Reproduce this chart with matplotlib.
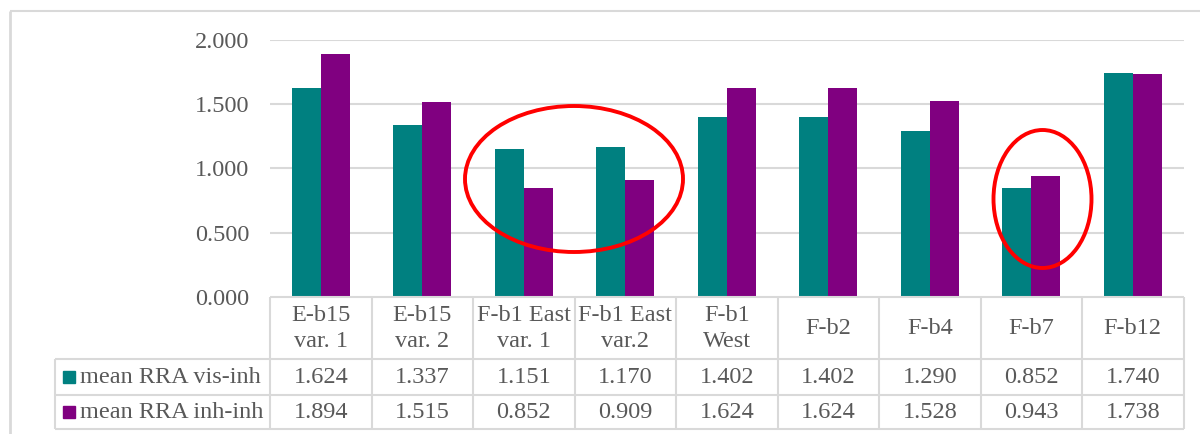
import matplotlib
matplotlib.use("Agg")
import matplotlib.pyplot as plt
from matplotlib.patches import Ellipse, Rectangle
from matplotlib.lines import Line2D

# Data
categories = ["E-b15\nvar. 1", "E-b15\nvar. 2", "F-b1 East\nvar. 1", "F-b1 East\nvar.2",
              "F-b1\nWest", "F-b2", "F-b4", "F-b7", "F-b12"]
series_names = ["mean RRA vis-inh", "mean RRA inh-inh"]
vis_inh = [1.624, 1.337, 1.151, 1.170, 1.402, 1.402, 1.290, 0.852, 1.740]
inh_inh = [1.894, 1.515, 0.852, 0.909, 1.624, 1.624, 1.528, 0.943, 1.738]
yticks = [0.0, 0.5, 1.0, 1.5, 2.0]

TEAL = "#008080"
PURPLE = "#800080"
TXT = "#595959"
GRID = "#d9d9d9"
FONT = "Liberation Serif"
FS = 17.5

W, H = 1200, 434
fig = plt.figure(figsize=(W / 100, H / 100), dpi=100)

# geometry in pixels
x0, x1 = 270, 1183.5
y_top, y_zero = 40, 297
ncat = len(categories)
colw = (x1 - x0) / ncat

ax = fig.add_axes([x0 / W, 1 - y_zero / H, (x1 - x0) / W, (y_zero - y_top) / H])
ax.set_xlim(-0.5, ncat - 0.5)
ax.set_ylim(0, 2.0)
bw = 0.285
xs = list(range(ncat))
ax.bar([x - bw / 2 for x in xs], vis_inh, width=bw, color=TEAL, zorder=3)
ax.bar([x + bw / 2 for x in xs], inh_inh, width=bw, color=PURPLE, zorder=3)
ax.set_yticks(yticks)
ax.set_yticklabels([f"{v:.3f}" for v in yticks], fontfamily=FONT, fontsize=FS, color=TXT)
ax.tick_params(axis="y", length=0, pad=15)
ax.set_xticks([])
for s in ax.spines.values():
    s.set_visible(False)
for v in yticks[1:]:
    ax.axhline(v, color=GRID, lw=1.5, zorder=1)
ax.patch.set_alpha(0)

# overlay for the data table, frame and highlights (pixel coordinates)
ov = fig.add_axes([0, 0, 1, 1])
ov.set_xlim(0, W)
ov.set_ylim(H, 0)
ov.axis("off")
ov.patch.set_alpha(0)

def line(xa, ya, xb, yb, lw=1.5):
    ov.add_line(Line2D([xa, xb], [ya, yb], color=GRID, lw=lw, solid_capstyle="butt"))

# chart frame
line(10, 11, W, 11, lw=1.5)
line(10, 11, 10, H, lw=2)

# data table
row_y = [y_zero, 359, 394.5, 428.5]
tbl_left = 55
line(x0, row_y[0], x1, row_y[0])
for y in row_y[1:]:
    line(tbl_left, y, x1, y)
line(tbl_left, row_y[1], tbl_left, row_y[3])
for k in range(ncat + 1):
    line(x0 + k * colw, row_y[0], x0 + k * colw, row_y[3])

for i, cat in enumerate(categories):
    cx = x0 + (i + 0.5) * colw
    ov.text(cx, (row_y[0] + row_y[1]) / 2 + 0.5, cat, ha="center", va="center",
            fontfamily=FONT, fontsize=FS, color=TXT, linespacing=1.3)
    for r, vals in enumerate([vis_inh, inh_inh]):
        ov.text(cx, (row_y[r + 1] + row_y[r + 2]) / 2 + 1, f"{vals[i]:.3f}",
                ha="center", va="center", fontfamily=FONT, fontsize=FS, color=TXT)

for r, (name, col) in enumerate(zip(series_names, [TEAL, PURPLE])):
    yc = (row_y[r + 1] + row_y[r + 2]) / 2
    ov.add_patch(Rectangle((63, yc - 6), 12, 12, color=col))
    ov.text(80, yc + 1, name, ha="left", va="center",
            fontfamily=FONT, fontsize=FS, color=TXT)

# highlight ellipses
ov.add_patch(Ellipse((574, 179), 218, 146, fill=False, ec="#ff0000", lw=2.8))
ov.add_patch(Ellipse((1042.5, 199), 98, 138, fill=False, ec="#ff0000", lw=2.8))

fig.savefig("out.png", dpi=100)
